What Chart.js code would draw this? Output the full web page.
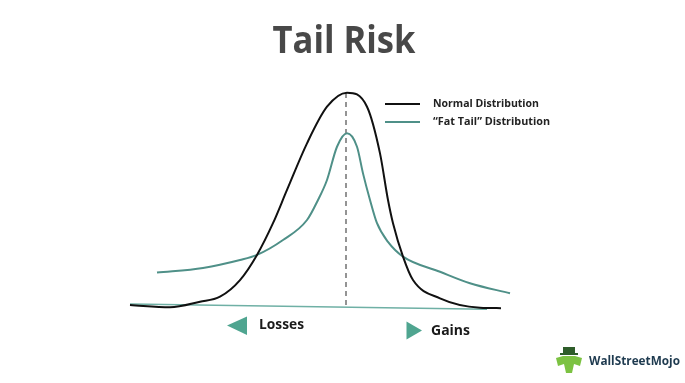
<!DOCTYPE html>
<html lang="en">
<head>
<meta charset="UTF-8">
<title>Tail Risk</title>
<script src="https://cdn.jsdelivr.net/npm/chart.js"></script>
<style>
  body { margin: 0; background: #fff; }
  #wrap { width: 685px; height: 383px; position: relative; }
</style>
</head>
<body>
<div id="wrap"><canvas id="chart" width="685" height="383"></canvas></div>
<script>
// x: distance from the mean, y: relative frequency (peak of normal = 100)
const normalX = [-10.75, -8.75, -7.25, -6.25, -5.25, -4.4, -3.6, -2.9, -1.9, -0.9, 0.1, 1.1, 1.75, 2.15, 2.4, 2.9, 3.4, 4.75, 6.75, 7.8];
const normalY = [0, -1.1, 1.5, 3.9, 11.7, 23.5, 38.4, 54.0, 75.9, 93.1, 99.7, 93.1, 71.2, 49.3, 38.4, 22.7, 11.7, 3.1, -1.3, -1.5];

const fatX = [-9.4, -7.1, -5.25, -4.4, -3.1, -1.9, -1.35, -0.9, -0.4, 0.1, 0.6, 0.9, 1.25, 1.6, 2.15, 2.9, 4.75, 6.25, 8.25];
const fatY = [15.2, 17.4, 21.1, 23.5, 30.5, 39.9, 49.3, 58.7, 74.3, 80.6, 74.3, 61.8, 49.3, 38.4, 29.6, 22.7, 15.6, 10.2, 5.5];

const baseX = [-10.75, 7.1];
const baseY = [0.5, -2.0];

const meanX = [0.05, 0.05];
const meanY = [0, 99.5];

const legendLabels = ['Normal Distribution', '\u201cFat Tail\u201d Distribution'];
const titleText = 'Tail Risk';

const pts = (xs, ys) => xs.map((x, i) => ({ x: x, y: ys[i] }));

const TEAL = '#4f9088';
const BLACK = '#111111';

const textPlugin = {
    id: 'texts',
    afterDraw(chart) {
        const ctx = chart.ctx;
        ctx.save();

        // title
        ctx.fillStyle = '#484848';
        ctx.font = 'bold 37px "Open Sans"';
        ctx.textAlign = 'center';
        ctx.textBaseline = 'alphabetic';
        ctx.fillText(titleText, 344, 53, 143);

        // legend
        const colors = [BLACK, TEAL];
        const rows = [104, 122];
        ctx.textAlign = 'left';
        ctx.textBaseline = 'middle';
        ctx.font = 'bold 11px "Open Sans"';
        rows.forEach((y, i) => {
            ctx.strokeStyle = colors[i];
            ctx.lineWidth = 2;
            ctx.beginPath();
            ctx.moveTo(385, y);
            ctx.lineTo(420, y);
            ctx.stroke();
            ctx.fillStyle = '#222';
            ctx.fillText(legendLabels[i], 433, y, i === 0 ? 106 : 117);
        });

        // losses / gains arrows
        ctx.fillStyle = '#4fa590';
        ctx.beginPath();
        ctx.moveTo(227, 325.5);
        ctx.lineTo(247, 316.5);
        ctx.lineTo(247, 335);
        ctx.closePath();
        ctx.fill();
        ctx.beginPath();
        ctx.moveTo(422, 330.5);
        ctx.lineTo(406.5, 321.5);
        ctx.lineTo(406.5, 339.5);
        ctx.closePath();
        ctx.fill();

        ctx.fillStyle = '#1a1a1a';
        ctx.font = 'bold 15px "Open Sans"';
        ctx.fillText('Losses', 259, 325, 45);
        ctx.fillText('Gains', 431, 331, 39);

        // logo
        ctx.fillStyle = '#2e5d2a';
        ctx.fillRect(563, 347, 12, 7);
        ctx.fillRect(560, 353, 18, 2);
        ctx.fillStyle = '#7cc242';
        ctx.beginPath();
        ctx.moveTo(556, 358);
        ctx.lineTo(563, 356);
        ctx.lineTo(575, 356);
        ctx.lineTo(582, 358);
        ctx.lineTo(580, 366);
        ctx.lineTo(574, 364);
        ctx.lineTo(572, 373);
        ctx.lineTo(566, 373);
        ctx.lineTo(564, 364);
        ctx.lineTo(558, 366);
        ctx.closePath();
        ctx.fill();
        ctx.fillStyle = '#1e3a4f';
        ctx.font = 'bold 13px "Open Sans"';
        ctx.fillText('WallStreetMojo', 589, 361, 91);

        ctx.restore();
    }
};

new Chart(document.getElementById('chart'), {
    type: 'scatter',
    data: {
        datasets: [
            {
                label: legendLabels[0],
                data: pts(normalX, normalY),
                showLine: true,
                borderColor: BLACK,
                borderWidth: 2,
                pointRadius: 0,
                cubicInterpolationMode: 'monotone',
                order: 1
            },
            {
                label: legendLabels[1],
                data: pts(fatX, fatY),
                showLine: true,
                borderColor: TEAL,
                borderWidth: 2,
                pointRadius: 0,
                cubicInterpolationMode: 'monotone',
                order: 2
            },
            {
                label: 'axis',
                data: pts(baseX, baseY),
                showLine: true,
                borderColor: '#6fb0a5',
                borderWidth: 1.5,
                pointRadius: 0,
                order: 3
            },
            {
                label: 'mean',
                data: pts(meanX, meanY),
                showLine: true,
                borderColor: '#707070',
                borderWidth: 1.5,
                borderDash: [5, 4],
                pointRadius: 0,
                order: 4
            }
        ]
    },
    options: {
        responsive: false,
        animation: false,
        layout: { padding: { left: 125, right: 170, top: 81.4, bottom: 67.4 } },
        scales: {
            x: { type: 'linear', min: -11, max: 8.5, display: false },
            y: { min: -5, max: 105, display: false }
        },
        plugins: {
            legend: { display: false },
            tooltip: { enabled: false }
        }
    },
    plugins: [textPlugin]
});
</script>
</body>
</html>
